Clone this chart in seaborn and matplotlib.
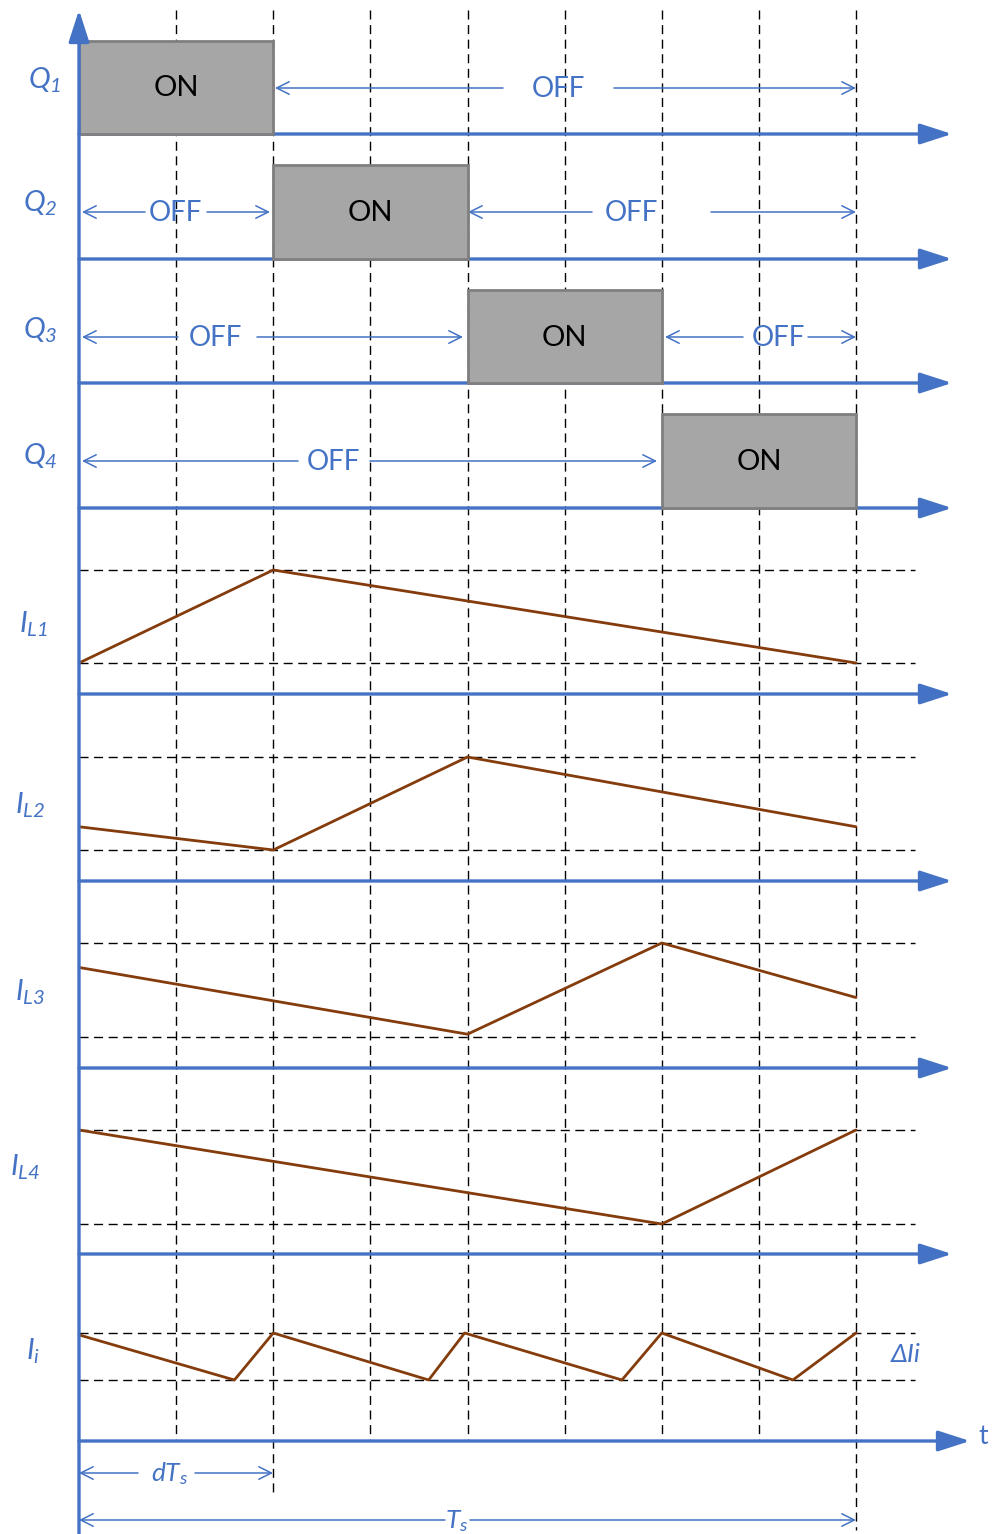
import numpy as np
import pandas as pd
import matplotlib
matplotlib.use("Agg")
import matplotlib.pyplot as plt
from matplotlib.patches import Rectangle
import seaborn as sns

sns.set_theme(style="white")
plt.rcParams['font.family'] = ['Lato', 'DejaVu Sans']
plt.rcParams['mathtext.fontset'] = 'custom'
plt.rcParams['mathtext.it'] = 'Lato:italic'
plt.rcParams['mathtext.rm'] = 'Lato:italic'
plt.rcParams['mathtext.default'] = 'it'

BLUE = "#4472c4"
BROWN = "#843c0c"
GRAY_FILL = "#a6a6a6"
GRAY_EDGE = "#7f7f7f"

# ---------------- data ----------------
# time in grid divisions (period Ts = 8 divisions, d = 0.25)
switch_names = ["Q1", "Q2", "Q3", "Q4"]
switch_labels = [r"$Q_{1}$", r"$Q_{2}$", r"$Q_{3}$", r"$Q_{4}$"]
on_start = [0, 2, 4, 6]
on_end = [2, 4, 6, 8]

current_names = ["IL1", "IL2", "IL3", "IL4", "Ii"]
current_labels = [r"$I_{L1}$", r"$I_{L2}$", r"$I_{L3}$", r"$I_{L4}$", r"$I_{i}$"]
# normalised current (0 = min dashed level, 1 = max dashed level)
IL1_t = [0, 2, 8]
IL1_v = [0.0, 1.0, 0.0]
IL2_t = [0, 2, 4, 8]
IL2_v = [0.25, 0.0, 1.0, 0.25]
IL3_t = [0, 4, 6, 8]
IL3_v = [0.74, 0.03, 1.0, 0.42]
IL4_t = [0, 6, 8]
IL4_v = [1.0, 0.0, 1.0]
Ii_t = [0, 1.6, 2, 3.6, 3.97, 5.59, 6, 7.35, 8]
Ii_v = [0.96, 0.0, 1.0, 0.0, 1.0, 0.0, 1.0, 0.0, 1.0]

# ---------------- layout (pixels) ----------------
W, H = 992, 1534
X0, DX = 79, 97.125
def px(t):
    return X0 + np.asarray(t, dtype=float) * DX

switch_axis_y = [134, 259, 383, 508]
box_top = [41, 165, 290, 414]
switch_label_pos = [(45, 80), (40, 203), (40, 330), (40, 456)]
current_axis_y = [694, 881, 1068, 1254, 1441]
cur_hi = [570, 757, 943, 1130, 1333]
cur_lo = [663, 850, 1037, 1224, 1380]
current_label_pos = [(33, 624), (30, 805), (30, 992), (25, 1167), (33, 1351)]

fig = plt.figure(figsize=(W / 100, H / 100), dpi=100)
ax = fig.add_axes([0, 0, 1, 1])
ax.set_xlim(0, W)
ax.set_ylim(H, 0)
ax.axis("off")

# dashed grid
dash = dict(color="black", lw=1.0, linestyle=(0, (6.5, 4)), zorder=1)
v_end = {2: 1497, 8: 1530}
for k in range(1, 9):
    ax.plot([px(k), px(k)], [10, v_end.get(k, 1440)], **dash)
for hi, lo in zip(cur_hi, cur_lo):
    ax.plot([X0, 915], [hi, hi], **dash)
    ax.plot([X0, 915], [lo, lo], **dash)

# axis arrows
axis_arrow = dict(arrowstyle="-|>,head_length=1.3,head_width=0.42", color=BLUE, lw=2.4,
                  shrinkA=0, shrinkB=0, mutation_scale=15)
for y in switch_axis_y + current_axis_y[:-1]:
    ax.annotate("", xy=(952, y), xytext=(X0, y), arrowprops=axis_arrow, zorder=2)
ax.annotate("", xy=(970, current_axis_y[-1]), xytext=(X0, current_axis_y[-1]), arrowprops=axis_arrow, zorder=2)
ax.annotate("", xy=(X0, 10), xytext=(X0, H), arrowprops=axis_arrow, zorder=6)
ax.text(983, 1437, "t", color=BLUE, fontsize=19, ha="center", va="center")

# ON boxes
for s, e, top, base in zip(on_start, on_end, box_top, switch_axis_y):
    ax.add_patch(Rectangle((px(s), top), px(e) - px(s), base - top, facecolor=GRAY_FILL,
                           edgecolor=GRAY_EDGE, lw=2, zorder=4))
    ax.text((px(s) + px(e)) / 2, (top + base) / 2 + 1, "ON", color="black", fontsize=21,
            ha="center", va="center", zorder=5)

for lab, (x, y) in zip(switch_labels, switch_label_pos):
    ax.text(x, y, lab, color=BLUE, fontsize=21, ha="center", va="center")
for lab, (x, y) in zip(current_labels, current_label_pos):
    ax.text(x, y, lab, color=BLUE, fontsize=21, ha="center", va="center")

# OFF / time span arrows: (y, left head, left tail, text x, right tail, right head, text)
thin = dict(arrowstyle="->,head_length=0.6,head_width=0.3", color=BLUE, lw=1.1,
            shrinkA=0, shrinkB=0, mutation_scale=15)
spans = [
    (88, 275, 503, 558, 614, 856, "OFF"),
    (212, 82, 145, 175, 207, 270, "OFF"),
    (212, 468, 592, 631, 711, 856, "OFF"),
    (337, 82, 178, 215, 257, 463, "OFF"),
    (337, 665, 743, 778, 808, 856, "OFF"),
    (461, 82, 298, 333, 370, 657, "OFF"),
    (1473, 79, 138, 170, 195, 273, r"$dT_{s}$"),
    (1520, 79, 445, 457, 470, 856, r"$T_{s}$"),
]
for y, lh, lt, tx, rt, rh, txt in spans:
    ax.annotate("", xy=(lh, y), xytext=(lt, y), arrowprops=thin, zorder=3)
    ax.annotate("", xy=(rh, y), xytext=(rt, y), arrowprops=thin, zorder=3)
    fs = 20 if txt == "OFF" else 19
    ax.text(tx, y + 1, txt, color=BLUE, fontsize=fs, ha="center", va="center", zorder=3)

ax.text(906, 1355, "ΔIi", color=BLUE, fontsize=19, style="italic", ha="center", va="center")

# current waveforms
series_t = [IL1_t, IL2_t, IL3_t, IL4_t, Ii_t]
series_v = [IL1_v, IL2_v, IL3_v, IL4_v, Ii_v]
rows = []
for name, ts, vs, hi, lo in zip(current_names, series_t, series_v, cur_hi, cur_lo):
    for t, v in zip(ts, vs):
        rows.append({"series": name, "x": float(px(t)), "y": lo - v * (lo - hi)})
df = pd.DataFrame(rows)
sns.lineplot(data=df, x="x", y="y", units="series", estimator=None, sort=False,
             color=BROWN, lw=2, ax=ax, zorder=5, legend=False)
ax.set_xlim(0, W)
ax.set_ylim(H, 0)
ax.axis("off")

fig.savefig("out.png", dpi=100)
